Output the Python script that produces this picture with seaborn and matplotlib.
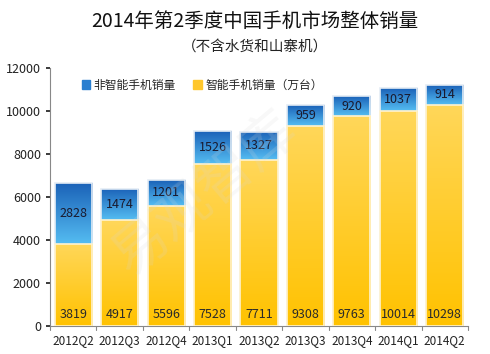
import matplotlib
matplotlib.use("Agg")
import matplotlib.pyplot as plt
import seaborn as sns
import numpy as np
import pandas as pd
from matplotlib.colors import LinearSegmentedColormap
from matplotlib.patches import Patch

quarters = ["2012Q2", "2012Q3", "2012Q4", "2013Q1", "2013Q2", "2013Q3", "2013Q4", "2014Q1", "2014Q2"]
smart = [3819, 4917, 5596, 7528, 7711, 9308, 9763, 10014, 10298]
nonsmart = [2828, 1474, 1201, 1526, 1327, 959, 920, 1037, 914]

sns.set_theme(style="white")
plt.rcParams['font.family'] = ['Noto Sans CJK SC', 'DejaVu Sans']

df = pd.DataFrame({"q": quarters, "smart": smart, "nonsmart": nonsmart})
df["total"] = df["smart"] + df["nonsmart"]

fig = plt.figure(figsize=(4.9, 3.54), dpi=100)
ax = fig.add_axes([0.102, 0.079, 0.853, 0.729])

blue = "#2f8ad8"
yellow = "#ffc72c"
sns.barplot(data=df, x="q", y="total", color=blue, width=0.8, saturation=1,
            edgecolor="#e4ecf5", linewidth=1.2, ax=ax)
n_blue = len(ax.patches)
sns.barplot(data=df, x="q", y="smart", color=yellow, width=0.8, saturation=1,
            edgecolor="#fff3d0", linewidth=1.2, ax=ax)

ax.set_xlim(-0.5, len(quarters) - 0.5)
ax.set_ylim(0, 12000)

blue_cmap = LinearSegmentedColormap.from_list("b", ["#55bdf2", "#1b62b8"])
yellow_cmap = LinearSegmentedColormap.from_list("y", ["#ffc200", "#ffd75a"])
grad = np.linspace(0, 1, 256).reshape(-1, 1)
for k, p in enumerate(list(ax.patches)):
    x0, y0 = p.get_x(), p.get_y()
    w, h = p.get_width(), p.get_height()
    if k < n_blue:
        # gradient only over the visible (non-smart) part
        top = y0 + h
        bottom = top - nonsmart[k]
        cmap = blue_cmap
        z = 1.5
    else:
        top = y0 + h
        bottom = y0
        cmap = yellow_cmap
        z = 2.5
    im = ax.imshow(grad, cmap=cmap, origin="lower", aspect="auto",
                   extent=[x0, x0 + w, bottom, top], zorder=z)
    im.set_clip_path(p)
    p.set_facecolor("none")
    p.set_zorder(z + 0.1)

for i, (s, n) in enumerate(zip(smart, nonsmart)):
    ax.text(i, s + n / 2, str(n), ha="center", va="center", fontsize=9, color="#1a1a2e", zorder=5)
    ax.text(i, 220, str(s), ha="center", va="bottom", fontsize=9, color="#2a2a2a", zorder=5)

ax.set_yticks(range(0, 12001, 2000))
ax.set_xlabel("")
ax.set_ylabel("")
ax.set_xticks(np.arange(len(quarters)))
ax.set_xticklabels(quarters)
ax.tick_params(axis="x", length=0, labelsize=8.5, pad=6, colors="#222222")
ax.tick_params(axis="y", length=3, labelsize=9, colors="#222222", left=True, direction="out")
for b in np.arange(-0.5, len(quarters), 1.0):
    ax.plot([b, b], [0, -180], color="#888888", lw=0.8, clip_on=False)
for side in ["top", "right"]:
    ax.spines[side].set_visible(False)
for side in ["left", "bottom"]:
    ax.spines[side].set_color("#888888")
    ax.spines[side].set_linewidth(0.8)

handles = [Patch(color="#2a7fd0", label="非智能手机销量"), Patch(color=yellow, label="智能手机销量（万台）")]
ax.legend(handles=handles, loc="upper left", bbox_to_anchor=(0.05, 1.0), ncol=2, frameon=False,
          fontsize=8.5, handlelength=0.7, handleheight=0.7, handletextpad=0.3, columnspacing=1.5)

fig.text(0.52, 0.94, "2014年第2季度中国手机市场整体销量", ha="center", va="center", fontsize=14, color="#111111")
fig.text(0.52, 0.865, "（不含水货和山寨机）", ha="center", va="center", fontsize=10.5, color="#222222")

fig.text(0.42, 0.45, "易观智库", ha="center", va="center", fontsize=40, color="#d8d8d8",
         rotation=40, alpha=0.18, zorder=10)

fig.savefig("out.png", dpi=100, facecolor="white")
